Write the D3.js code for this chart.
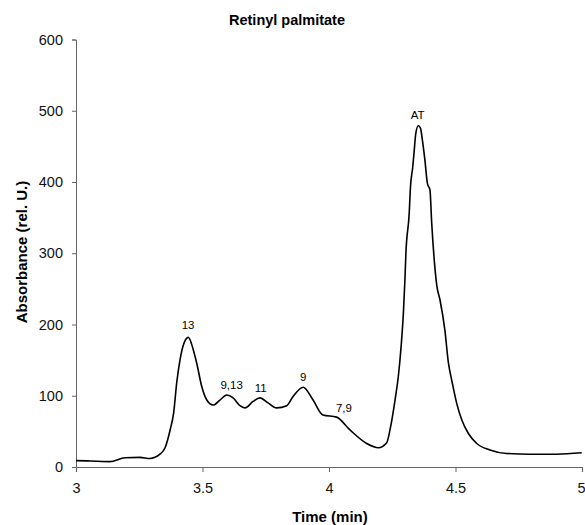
<!DOCTYPE html>
<html>
<head>
<meta charset="utf-8">
<script src="https://cdn.jsdelivr.net/npm/d3@7"></script>
<style>
  html, body { margin: 0; padding: 0; background: #fff; }
  svg { display: block; font-family: "Liberation Sans", Arial, Helvetica, sans-serif; }
</style>
</head>
<body>
<svg id="chart" width="585" height="525"></svg>
<script>
// ---- data ----
const timeMin = [3.000, 3.055, 3.134, 3.194, 3.253, 3.292, 3.332, 3.352, 3.372, 3.386, 3.398, 3.411, 3.424, 3.444,
  3.464, 3.477, 3.497, 3.517, 3.542, 3.569, 3.596, 3.621, 3.648, 3.668, 3.700, 3.727, 3.759, 3.793, 3.833,
  3.858, 3.898, 3.937, 3.976, 4.030, 4.083, 4.149, 4.195, 4.228, 4.241, 4.261, 4.274, 4.285, 4.294, 4.300,
  4.304, 4.317, 4.322, 4.331, 4.337, 4.343, 4.353, 4.362, 4.369, 4.379, 4.389, 4.399, 4.406, 4.415, 4.426,
  4.439, 4.458, 4.472, 4.485, 4.505, 4.525, 4.551, 4.584, 4.636, 4.702, 4.794, 4.900, 4.999];
const absorbance = [9, 8.5, 7.5, 13, 13.5, 12, 18, 27, 52, 76, 118, 150, 171, 182,
  164, 146, 113, 94, 87, 94, 101, 97, 86, 83, 92, 97, 90, 83, 86,
  99, 112, 94, 73, 70, 52, 33, 27, 34, 52, 94, 127, 169, 216, 262,
  300, 356, 393, 421, 445, 468, 479, 475, 459, 431, 398, 389, 342, 295, 255,
  234, 192, 146, 122, 89, 66, 47, 33, 24, 19, 18, 18, 20];

const peakLabels = ["13", "9,13", "11", "9", "7,9", "AT"];
const peakTime = [3.443, 3.615, 3.730, 3.898, 4.059, 4.350];
const peakAbs = [194, 109.5, 105, 121, 77, 488];

const xTicks = [3, 3.5, 4, 4.5, 5];
const yTicks = [0, 100, 200, 300, 400, 500, 600];

const titleText = "Retinyl palmitate";
const xLabel = "Time (min)";
const yLabel = "Absorbance (rel. U.)";

// ---- drawing ----
const svg = d3.select("#chart");
const x = d3.scaleLinear().domain([3, 5]).range([76, 582]);
const y = d3.scaleLinear().domain([0, 600]).range([467, 39.5]);

const axisColor = "#666";

// X axis
const gx = svg.append("g").attr("transform", `translate(0,${y(0)})`)
  .call(d3.axisBottom(x).tickValues(xTicks).tickFormat(d3.format("~g")).tickSizeOuter(0).tickSize(5).tickPadding(11));
gx.select(".domain").attr("stroke", axisColor).attr("stroke-width", 1.2);
gx.selectAll(".tick line").attr("stroke", axisColor);
gx.selectAll(".tick text").attr("font-size", "14.5px").attr("fill", "#111").attr("font-family", null);
// last label sits at the right edge of the picture: keep it inside
gx.selectAll(".tick text").filter(d => d === 5).attr("text-anchor", "end").attr("dx", "3px");

// Y axis
const gy = svg.append("g").attr("transform", `translate(${x(3)},0)`)
  .call(d3.axisLeft(y).tickValues(yTicks).tickFormat(d3.format("d")).tickSizeOuter(0).tickSize(4).tickPadding(9));
gy.select(".domain").attr("stroke", axisColor).attr("stroke-width", 1);
gy.selectAll(".tick line").attr("stroke", axisColor);
gy.selectAll(".tick text").attr("font-size", "14.5px").attr("fill", "#111").attr("font-family", null);

// Curve
const line = d3.line().x((d, i) => x(timeMin[i])).y(d => y(d)).curve(d3.curveMonotoneX);
svg.append("path")
  .attr("d", line(absorbance))
  .attr("fill", "none")
  .attr("stroke", "#000")
  .attr("stroke-width", 1.6)
  .attr("stroke-linejoin", "round");

// Peak labels
svg.append("g").selectAll("text").data(peakLabels).join("text")
  .attr("x", (d, i) => x(peakTime[i]))
  .attr("y", (d, i) => y(peakAbs[i]))
  .attr("text-anchor", "middle")
  .attr("font-size", "11.5px")
  .attr("fill", "#000")
  .text(d => d);

// Title
svg.append("text").attr("x", 287).attr("y", 25).attr("text-anchor", "middle")
  .attr("font-size", "14.5px").attr("font-weight", "bold").text(titleText);

// X label
svg.append("text").attr("x", 330).attr("y", 522).attr("text-anchor", "middle")
  .attr("font-size", "15px").attr("font-weight", "bold").text(xLabel);

// Y label
svg.append("text").attr("transform", "translate(27,252) rotate(-90)").attr("text-anchor", "middle")
  .attr("font-size", "15px").attr("font-weight", "bold").text(yLabel);
</script>
</body>
</html>
